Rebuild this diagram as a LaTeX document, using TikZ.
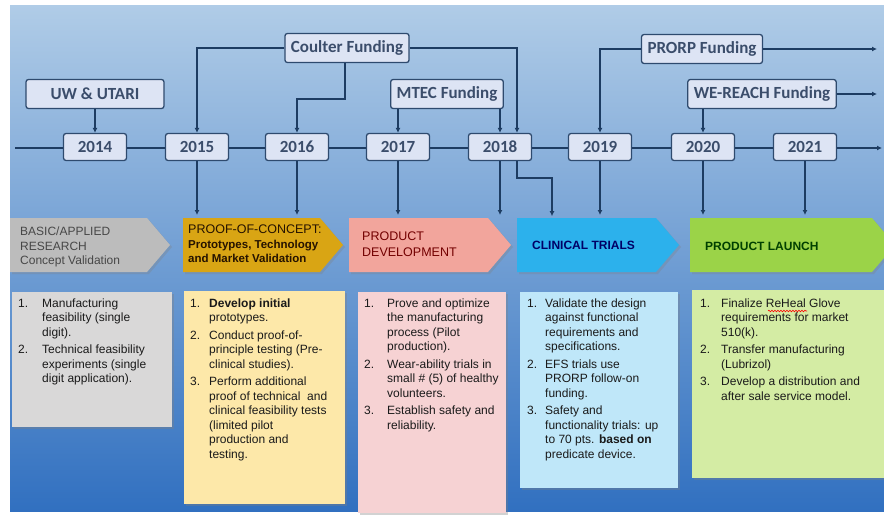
\documentclass[tikz,border=0pt]{standalone}
\usepackage{fontspec}
\setmainfont{Liberation Sans}
\newfontfamily\calib{Carlito}
\usetikzlibrary{arrows.meta,shadows,decorations.pathmorphing}

\definecolor{bgtop}{HTML}{B0CCE7}
\definecolor{bgmid}{HTML}{86B2DE}
\definecolor{bgbot}{HTML}{3170C0}
\definecolor{linkcol}{HTML}{1D3C62}
\definecolor{tagline}{HTML}{2E4A6E}
\definecolor{tagfill}{HTML}{DDE4F4}
\definecolor{tagtext}{HTML}{3B4D6B}
\definecolor{cardtext}{HTML}{1A1A1A}
% phase colours
\definecolor{resfill}{HTML}{BCBCBC}
\definecolor{pocfill}{HTML}{D9A514}
\definecolor{devfill}{HTML}{F2A59C}
\definecolor{clinfill}{HTML}{2CB1EC}
\definecolor{lnchfill}{HTML}{9BD348}
% card colours
\definecolor{rescard}{HTML}{D9D8D8}
\definecolor{poccard}{HTML}{FDE8A9}
\definecolor{devcard}{HTML}{F6D2D3}
\definecolor{clincard}{HTML}{BFE7F9}
\definecolor{lnchcard}{HTML}{D4ECA4}

\newcommand{\steps}[2]{\begin{tabular}{@{}p{#1}@{}l@{}}#2\end{tabular}}
\newcommand{\phase}[3]{% left x, tip x, colour
  \fill[#3, drop shadow={opacity=.3,shadow xshift=2pt,shadow yshift=-2pt}]
    (#1,218) -- ({#2-23},218) -- (#2,245) -- ({#2-23},272) -- (#1,272) -- cycle;}

\tikzset{
  plain/.style={draw=linkcol, line width=1.8pt},
  link/.style={plain, -{Latex[length=5pt,width=5pt]}},
  tag/.style={draw=tagline, line width=1.3pt, fill=tagfill, rounded corners=2.5pt,
    text=tagtext, font=\calib\bfseries\fontsize{17}{17}\selectfont, inner sep=0pt},
  year/.style={tag, minimum width=63pt, minimum height=27pt},
  fund/.style={tag, inner xsep=6pt, minimum height=29pt},
  phasetext/.style={anchor=west, align=left, inner sep=0pt},
  card/.style={anchor=north west, inner sep=0pt,
    drop shadow={opacity=.35,shadow xshift=2pt,shadow yshift=-2pt}},
  cardtext/.style={anchor=north west, inner sep=0pt, text=cardtext,
    font=\fontsize{12}{14.5}\selectfont},
}

\begin{document}
\begin{tikzpicture}[x=1pt,y=-1pt]
\useasboundingbox (0,0) rectangle (884,517);
\fill[white] (0,0) rectangle (884,517);
\shade[top color=bgtop, middle color=bgmid, bottom color=bgbot] (10,5) rectangle (884,511);

% time line
\coordinate (tstart) at (15,148);
\coordinate (tend) at (882,148);
\coordinate (endp) at (877,0);
\coordinate (lane) at (0,215);
\draw[link] (tstart) -- (tend);

\node[year] (y14) at (95,147) {2014};
\node[year] (y15) at (197,147) {2015};
\node[year] (y16) at (297,147) {2016};
\node[year] (y17) at (398,147) {2017};
\node[year] (y18) at (500,147) {2018};
\node[year] (y19) at (600,147) {2019};
\node[year] (y20) at (703,147) {2020};
\node[year] (y21) at (805,147) {2021};

% funding sources
\node[fund, minimum width=138pt] (uw) at (95,94) {UW \& UTARI};
\node[fund] (coulter) at (347,48) {Coulter Funding};
\node[fund] (mtec) at (447,94) {MTEC Funding};
\node[fund] (prorp) at (702,49) {PRORP Funding};
\node[fund] (wereach) at (762,94) {WE-REACH Funding};

\draw[link] (uw) -- (y14);
\draw[link] (coulter.west) -| (y15);
\draw[link] ([xshift=-2pt]coulter.south) -- ++(0,36) -| (y16);
\draw[link] (coulter.east) -| ([xshift=17pt]y18.north);
\draw[link] (mtec.south -| y17) -- (y17);
\draw[link] (mtec.south -| y18) -- (y18);
\draw[link] (prorp.west) -| (y19);
\draw[link] (prorp.east) -- (prorp.east -| endp);
\draw[link] (wereach.south -| y20) -- (y20);
\draw[link] (wereach.east) -- (wereach.east -| endp);

% phases
\phase{10}{170}{resfill}
\phase{183}{343}{pocfill}
\phase{349}{511}{devfill}
\phase{517}{679}{clinfill}
\phase{690}{895}{lnchfill}

\node[phasetext, text=black!72, font=\fontsize{12}{14.5}\selectfont] (research) at (20,247)
  {BASIC/APPLIED\\RESEARCH\\Concept Validation};
\node[phasetext, text=black!85!orange, font=\fontsize{12.5}{14.5}\selectfont] (concept) at (188,244)
  {PROOF-OF-CONCEPT:\\{\bfseries\fontsize{11.5}{14.5}\selectfont Prototypes, Technology}\\
   {\bfseries\fontsize{11.5}{14.5}\selectfont and Market Validation}};
\node[phasetext, text=red!45!black, font=\fontsize{12.5}{16}\selectfont] (develop) at (362,244)
  {PRODUCT\\DEVELOPMENT};
\node[phasetext, text=blue!40!black, font=\bfseries\fontsize{12}{14}\selectfont] (clinical) at (532,245)
  {CLINICAL TRIALS};
\node[phasetext, text=green!25!black, font=\bfseries\fontsize{12}{14}\selectfont] (launch) at (705,246)
  {PRODUCT LAUNCH};

\draw[link] (y15) -- (y15 |- lane);
\draw[link] (y16) -- (y16 |- lane);
\draw[link] (y17) -- (y17 |- lane);
\draw[link] (y18) -- (y18 |- lane);
\draw[link] ([xshift=17pt]y18.south) -- ++(0,17) -| ++(35,38);
\draw[link] (y19) -- (y19 |- lane);
\draw[link] (y20) -- (y20 |- lane);
\draw[link] (y21) -- (y21 |- lane);

% task cards
\node[card, fill=rescard, minimum width=160pt, minimum height=135pt] (rescard) at (12,292) {};
\node[card, fill=poccard, minimum width=161pt, minimum height=213pt] (poccard) at (184,291) {};
\node[card, fill=devcard, minimum width=148pt, minimum height=221pt] (devcard) at (358,292) {};
\node[card, fill=clincard, minimum width=158pt, minimum height=196pt] (clincard) at (520,292) {};
\node[card, fill=lnchcard, minimum width=192pt, minimum height=188pt] (lnchcard) at (692,290) {};

\node[cardtext] (restasks) at (18,297) {\steps{24pt}{%
  1. & Manufacturing\\ & feasibility (single\\ & digit).\\[3pt]
  2. & Technical feasibility\\ & experiments (single\\ & digit application).}};
\node[cardtext] (poctasks) at (190,297) {\steps{19pt}{%
  1. & \textbf{Develop initial}\\ & prototypes.\\[3pt]
  2. & Conduct proof-of-\\ & principle testing (Pre-\\ & clinical studies).\\[3pt]
  3. & Perform additional\\ & proof of technical\ \ and\\ & clinical feasibility tests\\
     & (limited pilot\\ & production and\\ & testing.}};
\node[cardtext] (devtasks) at (364,297) {\steps{23pt}{%
  1. & Prove and optimize\\ & the manufacturing\\ & process (Pilot\\ & production).\\[3pt]
  2. & Wear-ability trials in\\ & small \# (5) of healthy\\ & volunteers.\\[3pt]
  3. & Establish safety and\\ & reliability.}};
\node[cardtext] (clintasks) at (527,297) {\steps{18pt}{%
  1. & Validate the design\\ & against functional\\ & requirements and\\ & specifications.\\[3pt]
  2. & EFS trials use\\ & PRORP follow-on\\ & funding.\\[3pt]
  3. & Safety and\\ & functionality trials: up\\ & to 70 pts. \textbf{based on}\\ & predicate device.}};
\node[cardtext] (lnchtasks) at (700,297) {\steps{21pt}{%
  1. & Finalize ReHeal Glove\\ & requirements for market\\ & 510(k).\\[3pt]
  2. & Transfer manufacturing\\ & (Lubrizol)\\[3pt]
  3. & Develop a distribution and\\ & after sale service model.}};
% spell-check squiggle under the product name
\draw[red, line width=.6pt, decorate, decoration={snake, amplitude=.8pt, segment length=3pt}]
  (768,311) -- (807,311);
\end{tikzpicture}
\end{document}
